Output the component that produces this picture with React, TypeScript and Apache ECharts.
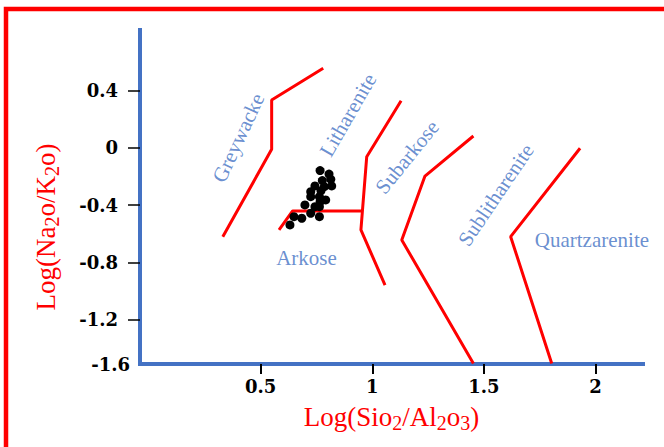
import React, { useEffect, useRef } from 'react';
import * as echarts from 'echarts';

// Axis ranges (data units)
const X_MIN = -0.041;
const X_MAX = 2.213;
const Y_MIN = -1.511;
const Y_MAX = 0.824;

// Tick values / labels
const xTickValues = [0.5, 1, 1.5, 2];
const yTickValues = [0.4, 0, -0.4, -0.8, -1.2];
const yBottomLabel = '-1.6';

// Classification boundaries
const boundaryGreywackeLitharenite = [[0.33, -0.621], [0.549, -0.01], [0.549, 0.335], [0.78, 0.557]];
const boundaryArkoseLitharenite = [[0.582, -0.574], [0.643, -0.441], [0.953, -0.441]];
const boundaryLithareniteSubarkose = [[1.129, 0.33], [0.975, -0.062], [0.949, -0.574], [1.057, -0.959]];
const boundarySubarkoseSublitharenite = [[1.453, 0.083], [1.236, -0.197], [1.132, -0.644], [1.453, -1.507]];
const boundarySublithareniteQuartzarenite = [[1.931, -0.003], [1.62, -0.621], [1.804, -1.507]];

// Samples
const samples = [
  [0.766, -0.159], [0.806, -0.183], [0.776, -0.229], [0.814, -0.22], [0.818, -0.266],
  [0.743, -0.266], [0.785, -0.271], [0.724, -0.306], [0.77, -0.299], [0.724, -0.341],
  [0.763, -0.341], [0.791, -0.364], [0.766, -0.376], [0.698, -0.399], [0.743, -0.411],
  [0.763, -0.411], [0.724, -0.457], [0.763, -0.481], [0.649, -0.481], [0.684, -0.492],
  [0.631, -0.539],
];

// Field names and their positions (data units)
const fieldNames = ['Greywacke', 'Litharenite', 'Subarkose', 'Sublitharenite', 'Quartzarenite', 'Arkose'];
const fieldX = [0.4, 0.891, 1.156, 1.554, 1.984, 0.705];
const fieldY = [0.07, 0.23, -0.064, -0.329, -0.644, -0.77];

const fieldRotation = [65, 60, 51, 56, 0, 0];

const RED = '#ff0000';
const BLUE = '#4472C4';
const serif = 'Liberation Serif';

function buildOption() {
  const nameRich = {
    a: { fontFamily: serif, fontSize: 27, color: RED, lineHeight: 32 },
    s: { fontFamily: serif, fontSize: 20, color: RED, lineHeight: 24, verticalAlign: 'bottom' },
  };
  const tickFont = { fontFamily: 'DejaVu Serif', fontWeight: 'bold', fontSize: 18, color: '#000' };
  const boundaries = [
    boundaryGreywackeLitharenite,
    boundaryArkoseLitharenite,
    boundaryLithareniteSubarkose,
    boundarySubarkoseSublitharenite,
    boundarySublithareniteQuartzarenite,
  ];
  return {
    animation: false,
    backgroundColor: '#ffffff',
    grid: { left: 140, right: 21, top: 30, bottom: 83 },
    graphic: [
      {
        type: 'rect',
        shape: { x: 6, y: 9, width: 720, height: 520 },
        style: { fill: 'none', stroke: RED, lineWidth: 4.5 },
        silent: true,
      },
    ],
    xAxis: {
      type: 'value',
      min: X_MIN,
      max: X_MAX,
      name: '{a|Log(Sio}{s|2}{a|/Al}{s|2}{a|o}{s|3}{a|)}',
      nameLocation: 'middle',
      nameGap: 37,
      nameTextStyle: { rich: nameRich },
      axisLine: { onZero: false, lineStyle: { color: BLUE, width: 4, cap: 'square' } },
      axisTick: { customValues: xTickValues, length: 10, lineStyle: { color: '#000', width: 2 } },
      axisLabel: { customValues: xTickValues, margin: 13, ...tickFont, formatter: (v: number) => String(v) },
      splitLine: { show: false },
    },
    yAxis: {
      type: 'value',
      min: Y_MIN,
      max: Y_MAX,
      name: '{a|Log(Na}{s|2}{a|o/K}{s|2}{a|o)}',
      nameLocation: 'middle',
      nameGap: 78,
      nameTextStyle: { padding: [0, 60, 0, 0], rich: nameRich },
      axisLine: { onZero: false, lineStyle: { color: BLUE, width: 4, cap: 'square' } },
      axisTick: { customValues: yTickValues, length: 12, lineStyle: { color: '#000', width: 1.5 } },
      axisLabel: {
        customValues: [Y_MIN, ...yTickValues],
        margin: 10,
        ...tickFont,
        formatter: (v: number) =>
          Math.abs(v - Y_MIN) < 1e-6 ? '{e|' + yBottomLabel + '}' : '{n|' + String(v) + '}',
        rich: {
          e: { ...tickFont },
          n: { ...tickFont, padding: [0, 12, 0, 0] },
        },
      },
      splitLine: { show: false },
    },
    series: [
      ...boundaries.map((b) => ({
        type: 'line',
        data: b,
        symbol: 'none',
        silent: true,
        lineStyle: { color: RED, width: 3 },
        z: 2,
      })),
      {
        type: 'scatter',
        data: samples,
        symbol: 'circle',
        symbolSize: 9,
        itemStyle: { color: '#000', opacity: 1 },
        z: 3,
      },
      {
        type: 'scatter',
        silent: true,
        symbolSize: 1,
        itemStyle: { color: 'rgba(0,0,0,0)' },
        data: fieldNames.map((n, i) => ({
          name: n,
          value: [fieldX[i], fieldY[i]],
          label: { rotate: fieldRotation[i] },
        })),
        label: {
          show: true,
          position: 'inside',
          formatter: '{b}',
          fontFamily: serif,
          fontSize: 21,
          color: BLUE,
        },
        z: 4,
      },
    ],
  };
}

export default function App() {
  const ref = useRef<HTMLDivElement>(null);
  useEffect(() => {
    if (!ref.current) return;
    const chart = echarts.init(ref.current, null, { renderer: 'svg' });
    chart.setOption(buildOption() as any);
    return () => chart.dispose();
  }, []);
  return (
    <div
      ref={ref}
      style={{ position: 'fixed', left: 0, top: 0, width: 664, height: 447, background: '#ffffff' }}
    />
  );
}
